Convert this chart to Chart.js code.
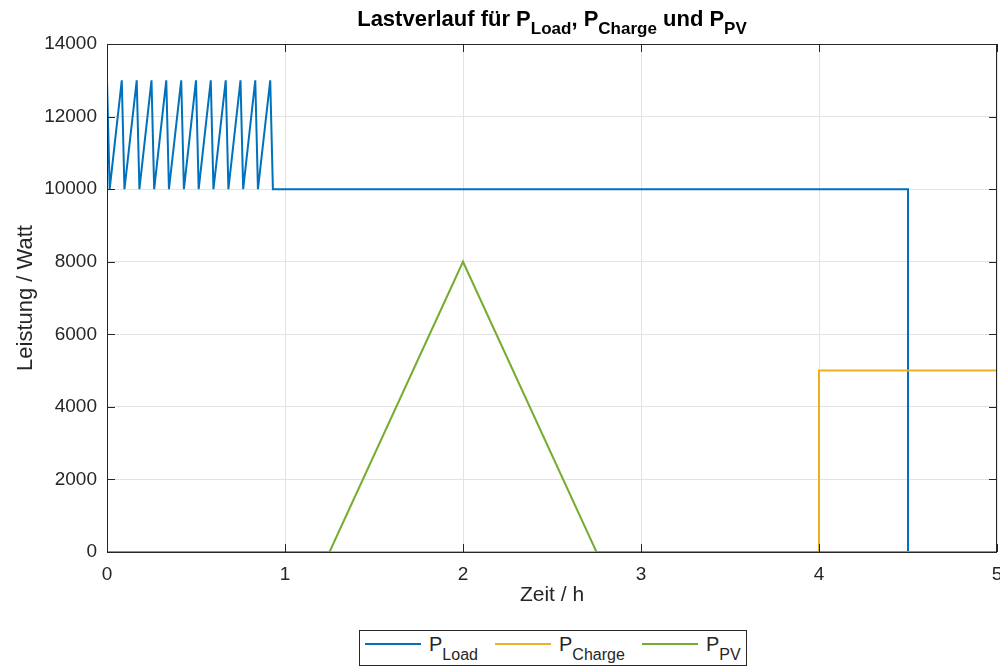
<!DOCTYPE html>
<html>
<head>
<meta charset="utf-8">
<script src="https://cdn.jsdelivr.net/npm/chart.js@4"></script>
<style>
  body { margin: 0; background: #fff; font-family: "Liberation Sans", Arial, sans-serif; }
  #wrap { position: relative; width: 1000px; height: 668px; }
  #title { position: absolute; left: 0; width: 1104px; top: 6px; text-align: center;
           font-weight: bold; font-size: 22px; color: #000; }
  #title sub { font-size: 17px; vertical-align: -8px; line-height: 0; }
  #legend { position: absolute; left: 359px; top: 630px; width: 386px; height: 34px;
            border: 1px solid #262626; background: #fff; font-size: 20px; color: #262626; }
  #legend .it { position: absolute; top: 2px; white-space: nowrap; }
  #legend .ln { display: inline-block; width: 56px; border-top: 2px solid; vertical-align: 6px; margin-right: 8px; }
  #legend sub { font-size: 16px; vertical-align: -9px; line-height: 0; }
</style>
</head>
<body>
<div id="wrap">
  <canvas id="chart" width="1000" height="668"></canvas>
  <div id="title">Lastverlauf für P<sub>Load</sub>, P<sub>Charge</sub> und P<sub>PV</sub></div>
  <div id="legend">
    <span class="it" style="left:5px"><span class="ln" style="border-color:#0072BD"></span>P<sub>Load</sub></span>
    <span class="it" style="left:135px"><span class="ln" style="border-color:#EDB120"></span>P<sub>Charge</sub></span>
    <span class="it" style="left:282px"><span class="ln" style="border-color:#77AC30"></span>P<sub>PV</sub></span>
  </div>
</div>
<script>
const loadTime = [0, 0.015, 0.083, 0.098, 0.167, 0.182, 0.25, 0.265, 0.333, 0.348, 0.417, 0.432,
  0.5, 0.515, 0.583, 0.598, 0.667, 0.682, 0.75, 0.765, 0.833, 0.848, 0.917, 0.932, 4.5, 4.5, 5];
const loadWatt = [13000, 10000, 13000, 10000, 13000, 10000, 13000, 10000, 13000, 10000, 13000, 10000,
  13000, 10000, 13000, 10000, 13000, 10000, 13000, 10000, 13000, 10000, 13000, 10000, 10000, 0, 0];
const chargeTime = [0, 4, 4, 5];
const chargeWatt = [0, 0, 5000, 5000];
const pvTime = [0, 1.25, 2, 2.75, 5];
const pvWatt = [0, 0, 8000, 0, 0];

const xTicks = [0, 1, 2, 3, 4, 5];
const yTicks = [0, 2000, 4000, 6000, 8000, 10000, 12000, 14000];

const toPoints = (xs, ys) => xs.map((x, i) => ({ x: x, y: ys[i] }));
const axisColor = "#262626";

const boxPlugin = {
  id: "box",
  afterDraw(chart) {
    const { ctx, chartArea: a, scales } = chart;
    ctx.save();
    ctx.strokeStyle = axisColor;
    ctx.lineWidth = 1;
    ctx.strokeRect(a.left + 0.5, a.top + 0.5, a.right - a.left - 1, a.bottom - a.top);
    ctx.beginPath();
    xTicks.forEach((t) => {
      const px = Math.round(scales.x.getPixelForValue(t)) + 0.5;
      ctx.moveTo(px, a.bottom); ctx.lineTo(px, a.bottom - 8);
      ctx.moveTo(px, a.top); ctx.lineTo(px, a.top + 8);
    });
    yTicks.forEach((t) => {
      const py = Math.round(scales.y.getPixelForValue(t)) + 0.5;
      ctx.moveTo(a.left, py); ctx.lineTo(a.left + 8, py);
      ctx.moveTo(a.right, py); ctx.lineTo(a.right - 8, py);
    });
    ctx.stroke();
    ctx.restore();
  }
};

new Chart(document.getElementById("chart").getContext("2d"), {
  type: "scatter",
  data: {
    datasets: [
      { label: "P_Load", data: toPoints(loadTime, loadWatt), borderColor: "#0072BD", order: 3 },
      { label: "P_Charge", data: toPoints(chargeTime, chargeWatt), borderColor: "#EDB120", order: 2 },
      { label: "P_PV", data: toPoints(pvTime, pvWatt), borderColor: "#77AC30", order: 1 },
    ],
  },
  options: {
    responsive: false,
    animation: false,
    showLine: true,
    elements: {
      point: { radius: 0, hoverRadius: 0 },
      line: { borderWidth: 2, tension: 0 },
    },
    layout: { padding: { top: 44, right: 3, bottom: 56, left: 0 } },
    plugins: { legend: { display: false }, tooltip: { enabled: false } },
    scales: {
      x: {
        type: "linear",
        min: 0,
        max: 5,
        afterBuildTicks: (s) => { s.ticks = xTicks.map((v) => ({ value: v })); },
        afterFit: (s) => { s.height = 60; s.paddingRight = 0; s.paddingLeft = 0; },
        grid: { color: "#e3e3e3", drawTicks: false },
        border: { display: false },
        ticks: { color: axisColor, padding: 11, font: { family: "Liberation Sans", size: 19 } },
        title: { display: true, text: "Zeit / h", color: axisColor, padding: { top: 5 },
                 font: { family: "Liberation Sans", size: 21 } },
      },
      y: {
        min: 0,
        max: 14000,
        afterBuildTicks: (s) => { s.ticks = yTicks.map((v) => ({ value: v })); },
        afterFit: (s) => { s.width = 107; s.paddingTop = 0; s.paddingBottom = 0; },
        grid: { color: "#e3e3e3", drawTicks: false },
        border: { display: false },
        ticks: { color: axisColor, padding: 10, font: { family: "Liberation Sans", size: 19 },
                 callback: (v) => String(v) },
        title: { display: true, text: "Leistung / Watt", color: axisColor, padding: { top: 13, bottom: 2 },
                 font: { family: "Liberation Sans", size: 22 } },
      },
    },
  },
  plugins: [boxPlugin],
});
</script>
</body>
</html>
